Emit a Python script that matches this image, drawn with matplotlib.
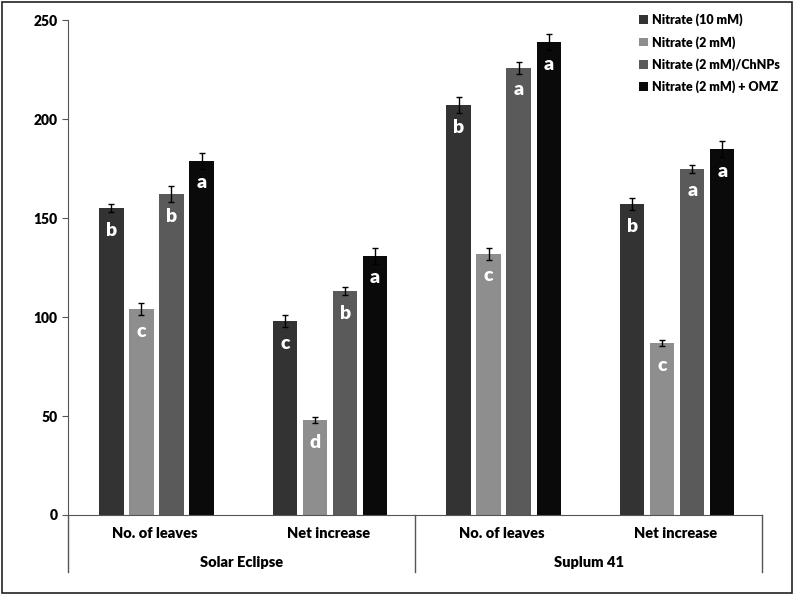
import numpy as np
import matplotlib.pyplot as plt
from matplotlib.patches import Rectangle

plt.rcParams['font.family'] = ['Lato', 'DejaVu Sans']
plt.rcParams['font.weight'] = 'heavy'

# data
groups = ['Solar Eclipse', 'Suplum 41']
categories = ['No. of leaves', 'Net increase', 'No. of leaves', 'Net increase']
series = ['Nitrate (10 mM)', 'Nitrate (2 mM)', 'Nitrate (2 mM)/ChNPs', 'Nitrate (2 mM) + OMZ']
values = [
    [155, 98, 207, 157],
    [104, 48, 132, 87],
    [162, 113, 226, 175],
    [179, 131, 239, 185],
]
errors = [
    [2, 3, 4, 3],
    [3, 1.5, 3, 1.5],
    [4, 2, 3, 2],
    [4, 4, 4, 4],
]
letters = [
    ['b', 'c', 'b', 'b'],
    ['c', 'd', 'c', 'c'],
    ['b', 'b', 'a', 'a'],
    ['a', 'a', 'a', 'a'],
]
colors = ['#333333', '#8e8e8e', '#5a5a5a', '#0a0a0a']

fig = plt.figure(figsize=(7.94, 5.95), dpi=100)
ax = fig.add_axes([0.0856, 0.1345, 0.8744, 0.8315])

x = np.arange(len(categories))
width = 0.14
step = 0.173
for i in range(len(series)):
    pos = x + (i - 1.5) * step + 0.01
    ax.bar(pos, values[i], width, color=colors[i], label=series[i], zorder=2)
    ax.errorbar(pos, values[i], yerr=errors[i], fmt='none', ecolor='black',
                elinewidth=1, capsize=2.5, capthick=1, zorder=3)
    for p, v, l in zip(pos, values[i], letters[i]):
        ax.annotate(l, (p, v), xytext=(0, -16), textcoords='offset points',
                    ha='center', va='center', color='white', fontsize=14)

ax.set_xlim(-0.5, len(categories) - 0.5)
ax.set_ylim(0, 250)
ax.set_yticks([0, 50, 100, 150, 200, 250])
ax.tick_params(axis='y', labelsize=10, direction='out', length=4, color='#555555')
ax.set_xticks([])
for s in ['top', 'right']:
    ax.spines[s].set_visible(False)
for s in ['left', 'bottom']:
    ax.spines[s].set_color('#555555')

# multi-level category axis
trans = ax.get_xaxis_transform()
for xv in [-0.5, 1.5, 3.5]:
    ax.plot([xv, xv], [0, -0.115], transform=trans, color='#555555',
            lw=1, clip_on=False)
for xi, c in zip(x, categories):
    ax.text(xi, -0.038, c, transform=trans, ha='center', va='center', fontsize=10.5)
for gi, g in enumerate(groups):
    ax.text(gi * 2 + 0.5, -0.097, g, transform=trans, ha='center', va='center', fontsize=10.5)

ax.legend(loc='upper left', bbox_to_anchor=(0.805, 0.977), bbox_transform=fig.transFigure,
          frameon=False, borderaxespad=0, borderpad=0,
          fontsize=9, handlelength=0.7, handleheight=0.7, handletextpad=0.35,
          labelspacing=0.75)

fig.patches.append(Rectangle((0.002, 0.004), 0.995, 0.992, transform=fig.transFigure,
                             fill=False, edgecolor='#222222', lw=1.2))

fig.savefig('out.png', dpi=100)
